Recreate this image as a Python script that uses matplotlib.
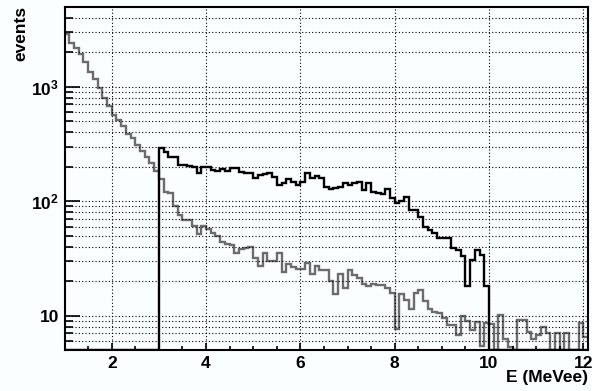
import matplotlib
matplotlib.use('Agg')
import matplotlib.pyplot as plt
import numpy as np
from matplotlib.ticker import MultipleLocator, LogLocator, FixedLocator, NullFormatter

plt.rcParams['font.family'] = ['Liberation Sans', 'DejaVu Sans']
plt.rcParams['font.weight'] = 'bold'
plt.rcParams['mathtext.fontset'] = 'custom'
plt.rcParams['mathtext.rm'] = 'Liberation Sans:bold'
plt.rcParams['mathtext.bf'] = 'Liberation Sans:bold'
plt.rcParams['mathtext.default'] = 'bf'

# binning: 0.1 MeVee bins from 1.0 to 12.1
x_lo, x_hi, n_bins = 1.0, 12.1, 111

# grey histogram (all events), one value per bin
grey_counts = [
    2900, 2420, 2190, 1920, 1650, 1350, 1180, 970, 790, 680,
    570, 510, 450, 390, 355, 310, 275, 245, 215, 185,
    155, 121, 117, 90, 76, 69, 68, 61, 52, 61,
    57, 53, 50, 44, 42, 41, 35, 38, 39, 40,
    31.7, 27, 35.5, 30, 30, 35, 24, 28, 26.8, 25.4,
    25.4, 29, 23, 27, 25, 25, 20, 15.5, 23, 17.3,
    25, 22.5, 21.5, 18.7, 18, 18.7, 18.5, 18.5, 17.5, 15.7,
    7.7, 15.5, 13.8, 11.5, 15.8, 16.8, 13.3, 11.5, 10.8, 10.5,
    9.5, 8.3, 8.3, 6.7, 10, 8.9, 7.5, 8.8, 5.4, 8.6,
    8.4, 0, 10.1, 6.3, 5.3, 0, 9.1, 9.2, 7.2, 6.3,
    6.7, 7.9, 7.0, 0, 7.0, 0, 7.0, 0, 0, 8.6,
    6.5,
]

# black histogram (selected events), one value per bin
black_counts = [0] * 20 + [
    290, 270, 245, 245, 207, 205, 203, 200, 177, 198,
    200, 187, 185, 190, 185, 194, 194, 181, 177, 175,
    160, 169, 172, 175, 162, 138, 143, 155, 148, 138,
    148, 175, 158, 166, 158, 134, 127, 130, 134, 143,
    138, 145, 148, 125, 145, 121, 117, 115, 127, 106,
    97, 101, 109, 84, 84, 73, 60, 56, 53, 48,
    47.5, 47.5, 38.8, 37.5, 33, 18, 30.6, 37.5, 33.8, 18,
] + [0] * 21

x_ticks = [2, 4, 6, 8, 10, 12]
y_ticks = [10, 100, 1000]
y_tick_labels = ['10', r'$10^{2}$', r'$10^{3}$']
y_min, y_max = 5.0, 4950

edges = np.linspace(x_lo, x_hi, n_bins + 1)
grey = np.array(grey_counts, dtype=float)
black = np.array(black_counts, dtype=float)

bg = '#fafefe'
fig = plt.figure(figsize=(5.92, 3.91), dpi=100)
fig.patch.set_facecolor(bg)
ax = fig.add_axes([64.6 / 592, 1 - 350 / 391, (588 - 64.6) / 592, (350 - 7.3) / 391])
ax.set_facecolor(bg)

# empty bins sit on the bottom of the frame, like ROOT draws them
ax.stairs(np.where(grey > 0, grey, y_min), edges, baseline=None, color='#6c6c6c', lw=1.7)
ax.stairs(np.where(black > 0, black, y_min), edges, baseline=None, color='black', lw=1.7)

ax.set_yscale('log')
ax.set_xlim(x_lo, x_hi)
ax.set_ylim(y_min, y_max)

ax.xaxis.set_major_locator(FixedLocator(x_ticks))
ax.xaxis.set_minor_locator(MultipleLocator(0.5))
ax.yaxis.set_major_locator(FixedLocator(y_ticks))
ax.set_yticklabels(y_tick_labels)
ax.yaxis.set_minor_locator(LogLocator(base=10, subs=np.arange(2, 10)))
ax.yaxis.set_minor_formatter(NullFormatter())

ax.grid(True, which='major', axis='x', ls=(0, (1, 2)), color='black', lw=0.8)
ax.grid(True, which='both', axis='y', ls=(0, (1, 2)), color='black', lw=0.8)

ax.tick_params(axis='both', which='both', direction='in', top=False, right=False,
               labelsize=12.5, width=1.2)
ax.tick_params(axis='x', which='major', length=5, pad=4.5)
ax.tick_params(axis='x', which='minor', length=3)
ax.tick_params(axis='y', which='major', length=11, pad=4)
ax.tick_params(axis='y', which='minor', length=6)

for s in ax.spines.values():
    s.set_linewidth(1.5)

fig.text(21 / 592, 1 - 6 / 391, 'events', rotation=90, ha='center', va='top',
         fontsize=12.5, fontweight='bold')
fig.text(588 / 592, 1 - 370 / 391, 'E (MeVee)', ha='right', va='top',
         fontsize=12.5, fontweight='bold')

fig.savefig('out.png', dpi=100, facecolor=bg)
